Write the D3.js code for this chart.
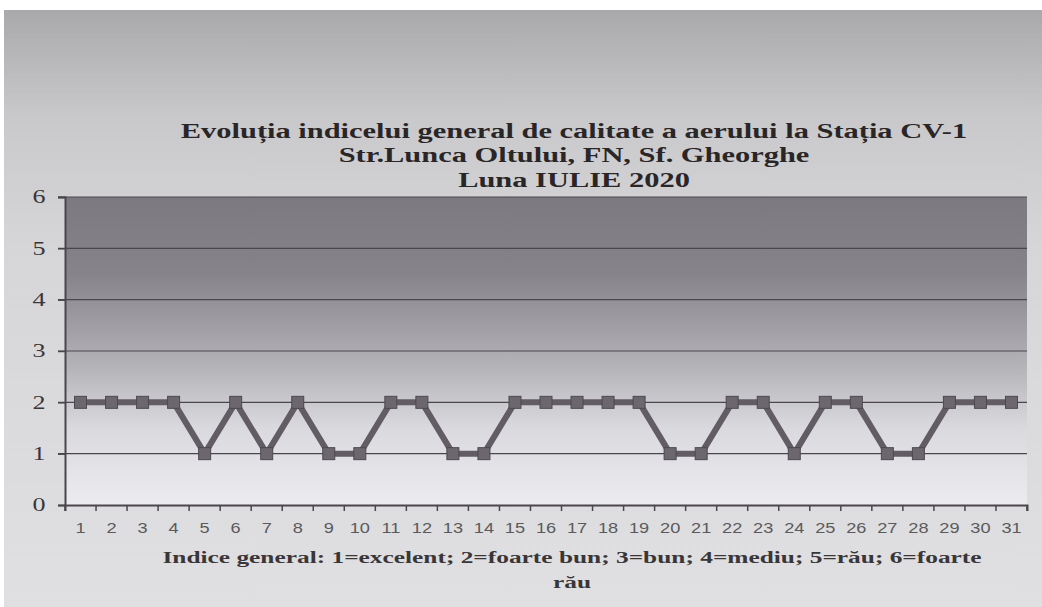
<!DOCTYPE html>
<html><head><meta charset="utf-8">
<script src="https://cdn.jsdelivr.net/npm/d3@7"></script>
<style>html,body{margin:0;padding:0;background:#fff;}svg{display:block;}</style>
</head><body>
<script>
const days = d3.range(1, 32).map(String);
const indexValues = [2,2,2,2,1,2,1,2,1,1,2,2,1,1,2,2,2,2,2,1,1,2,2,1,2,2,1,1,2,2,2];
const yTicks = [0,1,2,3,4,5,6];
const titleLines = ["Evoluția indicelui general de calitate a aerului la Stația CV-1","Str.Lunca Oltului, FN, Sf. Gheorghe","Luna IULIE 2020"];
const axisTitleLines = ["Indice general: 1=excelent; 2=foarte bun; 3=bun; 4=mediu; 5=rău; 6=foarte","rău"];

const W = 1042, H = 607;
const svg = d3.select("body").append("svg").attr("width", W).attr("height", H);
const defs = svg.append("defs");
const bg = defs.append("linearGradient").attr("id","bg").attr("x1",0).attr("y1",0).attr("x2",0).attr("y2",1);
bg.append("stop").attr("offset","0%").attr("stop-color","#a9a9ab");
bg.append("stop").attr("offset","18%").attr("stop-color","#c9c9cb");
bg.append("stop").attr("offset","40%").attr("stop-color","#d6d6d8");
bg.append("stop").attr("offset","100%").attr("stop-color","#e0e0e2");
const pg = defs.append("linearGradient").attr("id","pg").attr("x1",0).attr("y1",0).attr("x2",0).attr("y2",1);
pg.append("stop").attr("offset","0%").attr("stop-color","#7c7a80");
pg.append("stop").attr("offset","25%").attr("stop-color","#86848a");
pg.append("stop").attr("offset","55%").attr("stop-color","#b4b3b8");
pg.append("stop").attr("offset","75%").attr("stop-color","#dadade");
pg.append("stop").attr("offset","100%").attr("stop-color","#ececf0");

svg.append("rect").attr("x",4).attr("y",10).attr("width",W-4).attr("height",H-10).attr("fill","url(#bg)");

const m = {left:65, right:1027, top:197, bottom:505};
const x = d3.scaleBand().domain(days).range([m.left, m.right]);
const y = d3.scaleLinear().domain([0,6]).range([m.bottom, m.top]);
const SX = 1.45; // horizontal stretch of the scanned text

svg.append("rect").attr("x",m.left).attr("y",m.top).attr("width",m.right-m.left).attr("height",m.bottom-m.top).attr("fill","url(#pg)");

// gridlines
svg.append("g").selectAll("line").data(yTicks.filter(d=>d>0)).join("line")
  .attr("x1",m.left-7).attr("x2",m.right).attr("y1",d=>y(d)).attr("y2",d=>y(d))
  .attr("stroke","#4a464c").attr("stroke-width",1.2);

// y axis
const ya = svg.append("g").attr("transform",`translate(${m.left},0)`)
  .call(d3.axisLeft(y).tickValues(yTicks).tickFormat(d3.format("d")).tickSize(7).tickPadding(0));
ya.select(".domain").attr("stroke","#4a464c").attr("stroke-width",2);
ya.selectAll(".tick line").attr("stroke","#4a464c").attr("stroke-width",1.5);
ya.selectAll("text").attr("x",0).attr("text-anchor","middle")
  .attr("transform",`translate(-26,0) scale(${SX},1)`)
  .attr("font-family","Liberation Serif, serif").attr("font-size",18).attr("fill","#3a3638");

// x axis
const xa = svg.append("g").attr("transform",`translate(0,${m.bottom})`)
  .call(d3.axisBottom(x).tickSize(6).tickPadding(12));
xa.select(".domain").attr("stroke","#4a464c").attr("stroke-width",2);
xa.selectAll(".tick line").attr("stroke","#4a464c").attr("stroke-width",1.5)
  .attr("transform",`translate(${-x.bandwidth()/2},0)`);
xa.append("line").attr("x1",m.right).attr("x2",m.right).attr("y1",0).attr("y2",6).attr("stroke","#4a464c").attr("stroke-width",1.5);
xa.selectAll("text").attr("transform",`scale(1.3,1)`)
  .attr("font-family","Liberation Sans, Arial, sans-serif").attr("font-size",14).attr("fill","#5a5a5c");

// line
const line = d3.line().x((d,i)=>x(days[i])+x.bandwidth()/2).y(d=>y(d));
svg.append("path").datum(indexValues).attr("d",line).attr("fill","none")
  .attr("stroke","#625c64").attr("stroke-width",6).attr("stroke-linejoin","miter");
svg.append("g").selectAll("rect").data(indexValues).join("rect")
  .attr("x",(d,i)=>x(days[i])+x.bandwidth()/2-6).attr("y",d=>y(d)-6)
  .attr("width",12).attr("height",12).attr("fill","#6c666e").attr("stroke","#4e4950").attr("stroke-width",1);

// title
svg.append("g").attr("transform",`translate(574,0) scale(${SX},1)`)
  .selectAll("text").data(titleLines).join("text")
  .attr("x",0).attr("y",(d,i)=>138+i*24.5).attr("text-anchor","middle")
  .attr("font-family","Liberation Serif, Times New Roman, serif").attr("font-weight","bold")
  .attr("font-size",21).attr("fill","#2a2628").text(d=>d);

svg.append("g").attr("transform",`translate(572,0) scale(${SX},1)`)
  .selectAll("text").data(axisTitleLines).join("text")
  .attr("x",0).attr("y",(d,i)=>563+i*25).attr("text-anchor","middle")
  .attr("font-family","Liberation Serif, Times New Roman, serif").attr("font-weight","bold")
  .attr("font-size",17.5).attr("fill","#3a3638").text(d=>d);
</script>
</body></html>
